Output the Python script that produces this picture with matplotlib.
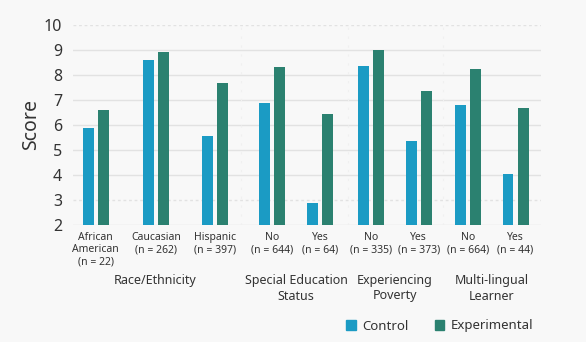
import matplotlib
matplotlib.use("Agg")
import matplotlib.pyplot as plt
from matplotlib.patches import Patch

plt.rcParams['font.family'] = ['Noto Sans', 'DejaVu Sans']

categories = ["African\nAmerican\n(n = 22)", "Caucasian\n(n = 262)", "Hispanic\n(n = 397)",
              "No\n(n = 644)", "Yes\n(n = 64)",
              "No\n(n = 335)", "Yes\n(n = 373)",
              "No\n(n = 664)", "Yes\n(n = 44)"]
groups = ["Race/Ethnicity", "Special Education\nStatus", "Experiencing\nPoverty", "Multi-lingual\nLearner"]
group_members = [[0, 1, 2], [3, 4], [5, 6], [7, 8]]
control = [5.87, 8.60, 5.55, 6.87, 2.89, 8.37, 5.37, 6.79, 4.03]
experimental = [6.59, 8.92, 7.68, 8.33, 6.43, 8.99, 7.35, 8.24, 6.69]
yticks = [2, 3, 4, 5, 6, 7, 8, 9, 10]

# layout (pixel-like x coordinates)
xpos = [95.7, 156, 214.7, 272, 320, 370.7, 418.7, 467.7, 515.5]
separators = [241, 348, 443]
bw = 10.8
off = 7.6

W, H = 586, 342
fig = plt.figure(figsize=(W / 100, H / 100), dpi=100)
bg = "#f8f8f8"
fig.patch.set_facecolor(bg)
ax = fig.add_axes([73 / W, (H - 225) / H, (541 - 73) / W, 200 / H])
ax.set_facecolor(bg)

c_col = "#1b9bc4"
e_col = "#2b8170"

ax.bar([x - off for x in xpos], [v - 2 for v in control], bottom=2, width=bw,
       color=c_col, zorder=3)
ax.bar([x + off for x in xpos], [v - 2 for v in experimental], bottom=2, width=bw,
       color=e_col, zorder=3)

ax.set_xlim(73, 541)
ax.set_ylim(2, 10)
ax.set_yticks(yticks)
ax.set_yticklabels([str(t) for t in yticks], fontsize=11.5, color="#333333")
for t in yticks:
    ls = (0, (2, 2)) if t in (10, 3) else "-"
    ax.axhline(t, color="#e2e2e2", lw=1, ls=ls, zorder=1)
for s in separators:
    ax.axvline(s, color="#f0f0f0", lw=0.8, ls=(0, (2, 6)), zorder=1)

ax.set_xticks(xpos)
ax.set_xticklabels(categories, fontsize=7.5, color="#333333", linespacing=1.15)
ax.tick_params(axis='both', length=0)
ax.tick_params(axis='x', pad=5)
ax.tick_params(axis='y', pad=8)
for sp in ax.spines.values():
    sp.set_visible(False)

ax.set_ylabel("Score", fontsize=14, color="#333333", labelpad=2)

for g, mem in zip(groups, group_members):
    cx = sum(xpos[i] for i in mem) / len(mem)
    fig.text(cx / W, 1 - 274 / H, g, ha="center", va="top", fontsize=9,
             color="#333333", linespacing=1.25)

handles = [Patch(color=c_col, label="Control"), Patch(color=e_col, label="Experimental")]
leg = fig.legend(handles=handles, loc="center", bbox_to_anchor=(440 / W, 1 - 326 / H),
                 ncol=2, frameon=False, fontsize=9.5, handlelength=0.7, handleheight=0.7,
                 handletextpad=0.5, columnspacing=2.0)
for t in leg.get_texts():
    t.set_color("#333333")

fig.savefig("out.png", dpi=100, facecolor=bg)
